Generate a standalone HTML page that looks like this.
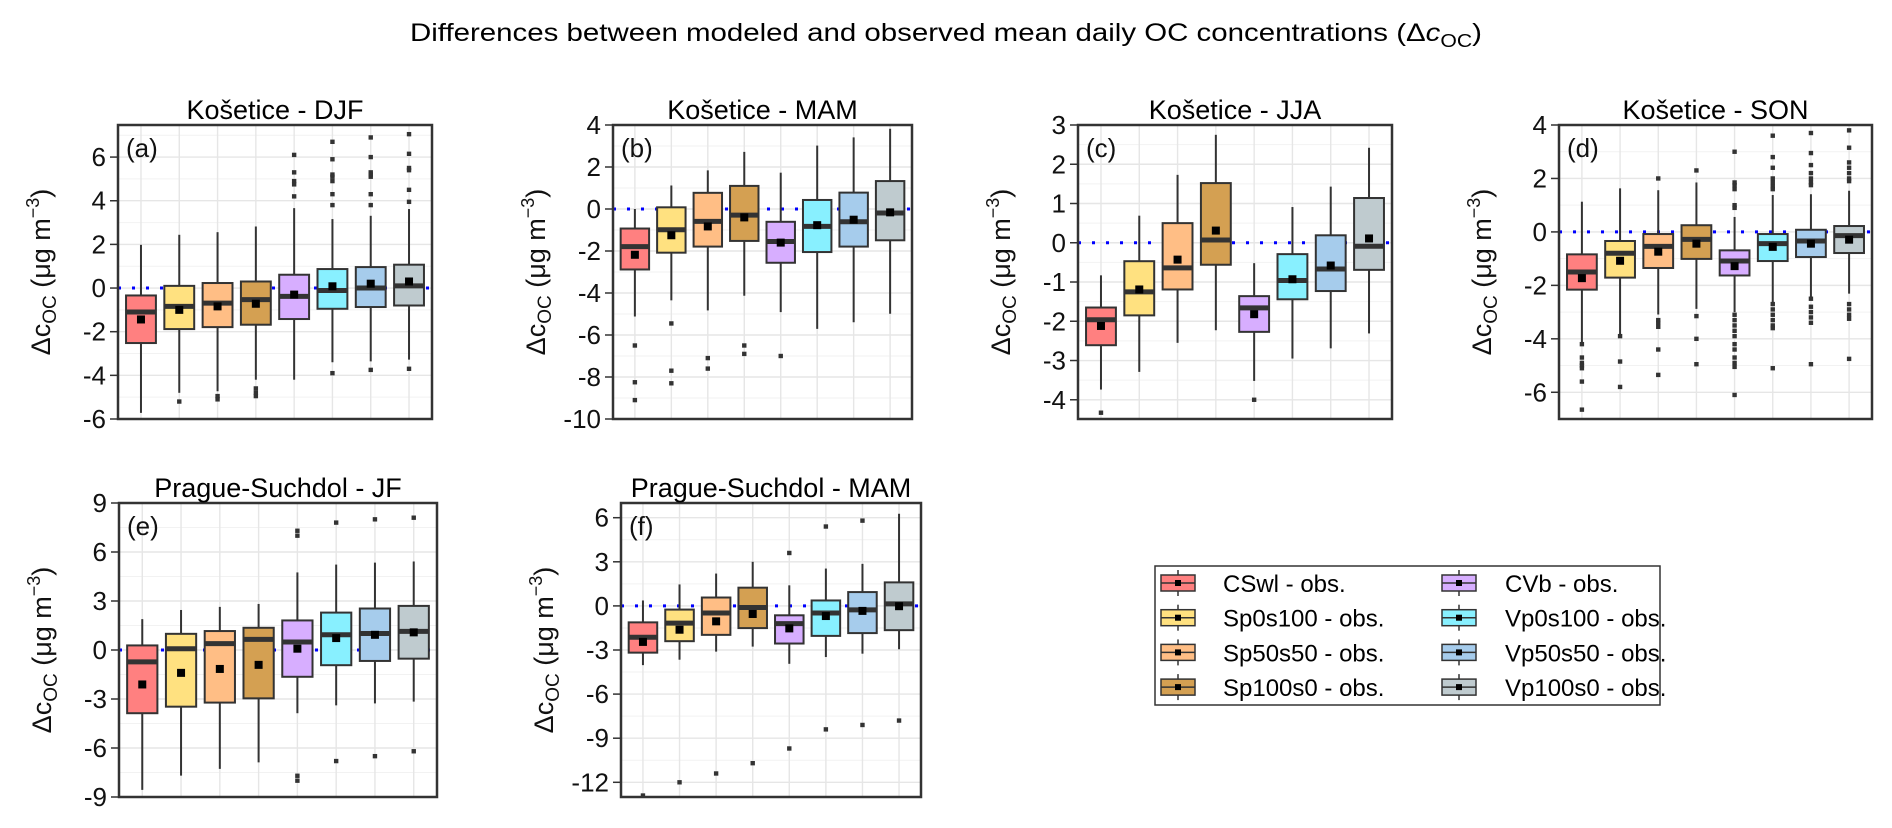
<!DOCTYPE html>
<html><head><meta charset="utf-8"><style>
html,body{margin:0;padding:0;background:#fff;}
svg{display:block;font-family:"Liberation Sans",Arial,sans-serif;}
</style></head><body>
<svg id="chart" width="1892" height="828" viewBox="0 0 1892 828" xmlns="http://www.w3.org/2000/svg">
<rect width="1892" height="828" fill="#fff"/>
<text x="946" y="41" text-anchor="middle" font-size="25" textLength="1072" lengthAdjust="spacingAndGlyphs">Differences between modeled and observed mean daily OC concentrations (Δ<tspan font-style="italic">c</tspan><tspan font-size="18" dy="6">OC</tspan><tspan dy="-6">)</tspan></text>
<g id="panels"></g>
<g id="legend"></g>
</svg>
<script>
// ---- data ----
const categories = ["CSwl - obs.","Sp0s100 - obs.","Sp50s50 - obs.","Sp100s0 - obs.","CVb - obs.","Vp0s100 - obs.","Vp50s50 - obs.","Vp100s0 - obs."];
const colors = ["#FF8080","#FFE180","#FFBE85","#D4A052","#D7AEFF","#88F0FF","#A6CCEC","#BFCBCF"];
const panelTitles = ["Košetice - DJF","Košetice - MAM","Košetice - JJA","Košetice - SON","Prague-Suchdol - JF","Prague-Suchdol - MAM"];
const panelLetters = ["(a)","(b)","(c)","(d)","(e)","(f)"];
const yTicksA = [-6,-4,-2,0,2,4,6];
const yTicksB = [-10,-8,-6,-4,-2,0,2,4];
const yTicksC = [-4,-3,-2,-1,0,1,2,3];
const yTicksD = [-6,-4,-2,0,2,4];
const yTicksE = [-9,-6,-3,0,3,6,9];
const yTicksF = [-12,-9,-6,-3,0,3,6];
// per box: [lower whisker, q1, median, q3, upper whisker, mean]
const statsA = [[-5.72,-2.52,-1.1,-0.34,1.98,-1.44],[-4.8,-1.88,-0.84,0.1,2.44,-1.0],[-4.73,-1.79,-0.69,0.23,2.56,-0.84],[-4.2,-1.68,-0.53,0.3,2.82,-0.72],[-4.2,-1.42,-0.38,0.61,3.66,-0.3],[-3.4,-0.95,-0.11,0.87,3.16,0.08],[-3.36,-0.87,0,0.96,3.31,0.2],[-3.28,-0.8,0.1,1.07,3.62,0.3]];
const outA = [[],[-5.2],[-4.95,-5.1],[-4.6,-4.8,-4.95],[4.2,4.75,4.9,5.3,6.1],[-3.9,3.8,4.3,4.9,5.1,5.2,5.9,6.7],[-3.75,3.8,4.3,5.1,5.3,5.2,6.0,6.9],[-3.7,3.95,4.5,5.4,5.5,6.15,7.05]];
const statsB = [[-5.12,-2.88,-1.79,-0.93,0,-2.18],[-4.35,-2.08,-0.99,0.08,1.12,-1.25],[-4.83,-1.79,-0.59,0.77,1.84,-0.83],[-4.13,-1.52,-0.29,1.1,2.72,-0.4],[-4.91,-2.56,-1.55,-0.61,1.73,-1.6],[-5.71,-2.05,-0.83,0.43,3.02,-0.77],[-5.39,-1.79,-0.61,0.78,3.41,-0.51],[-4.99,-1.49,-0.19,1.33,3.82,-0.16]];
const outB = [[-6.5,-8.25,-9.1],[-5.45,-7.7,-8.3],[-7.1,-7.6],[-6.5,-6.9],[-7.0],[],[],[]];
const statsC = [[-3.74,-2.61,-1.96,-1.65,-0.83,-2.12],[-3.29,-1.85,-1.25,-0.47,0.69,-1.19],[-2.55,-1.19,-0.64,0.5,1.73,-0.43],[-2.23,-0.56,0.07,1.52,2.75,0.31],[-3.52,-2.27,-1.66,-1.36,-0.52,-1.82],[-2.95,-1.44,-0.96,-0.29,0.91,-0.93],[-2.69,-1.23,-0.67,0.19,1.43,-0.58],[-2.31,-0.69,-0.09,1.14,2.42,0.11]];
const outC = [[-4.33],[],[],[],[-4.0],[],[],[]];
const statsD = [[-4.19,-2.16,-1.5,-0.84,1.13,-1.73],[-3.84,-1.71,-0.8,-0.34,1.63,-1.08],[-3.09,-1.35,-0.54,-0.08,1.56,-0.74],[-2.88,-1.01,-0.28,0.25,1.85,-0.44],[-3.0,-1.63,-1.09,-0.69,0.56,-1.28],[-2.63,-1.09,-0.44,-0.08,1.38,-0.56],[-2.44,-0.94,-0.34,0.08,1.41,-0.44],[-2.31,-0.79,-0.14,0.22,1.54,-0.29]];
const outD = [[-4.2,-4.7,-4.9,-5.0,-5.1,-5.6,-6.65],[-3.9,-4.85,-5.8],[2.0,-3.3,-3.4,-3.55,-4.4,-5.35],[2.3,-3.15,-4.0,-4.95],[3.0,1.6,1.75,1.85,1.0,0.9,-3.1,-3.3,-3.5,-3.7,-3.9,-4.2,-4.4,-4.7,-4.9,-5.05,-6.1],[3.6,2.8,2.4,2.0,1.85,1.7,1.6,-2.7,-2.9,-3.1,-3.3,-3.5,-3.6,-5.1],[3.7,2.95,2.5,2.2,2.0,1.85,1.75,-2.5,-2.8,-3.0,-3.2,-3.4,-4.95],[3.8,3.15,2.6,2.4,2.2,2.0,1.9,-2.7,-2.9,-3.1,-3.25,-4.75]];
const statsE = [[-8.56,-3.87,-0.73,0.28,1.89,-2.11],[-7.69,-3.47,0.08,0.99,2.45,-1.4],[-7.28,-3.22,0.39,1.16,2.64,-1.16],[-6.88,-2.96,0.65,1.36,2.82,-0.91],[-3.87,-1.64,0.49,1.81,4.75,0.08],[-3.39,-0.93,0.93,2.29,5.23,0.73],[-3.27,-0.67,1.01,2.54,5.35,0.93],[-3.16,-0.53,1.14,2.7,5.42,1.08]];
const outE = [[],[],[],[],[7.0,7.3,-7.7,-8.0],[7.8,-6.8],[8.0,-6.5],[8.1,-6.2]];
const statsF = [[-4.03,-3.18,-2.13,-1.12,0.37,-2.45],[-3.66,-2.4,-1.17,-0.25,1.46,-1.62],[-3.11,-1.97,-0.48,0.57,2.2,-1.05],[-2.77,-1.51,-0.11,1.24,3.0,-0.55],[-3.94,-2.56,-1.21,-0.64,1.4,-1.53],[-3.48,-2.04,-0.48,0.37,2.54,-0.69],[-3.25,-1.85,-0.27,0.94,2.86,-0.34],[-2.95,-1.65,0.14,1.6,6.27,-0.02]];
const outF = [[-12.9],[-12.0],[-11.4],[-10.7],[3.6,-9.7],[5.4,-8.4],[5.8,-8.1],[-7.8]];

// ---- layout ----
const panels = [
 {x0:118,x1:432,y0:125,y1:419,ymin:-6,ymax:7.47,ticks:yTicksA,stats:statsA,out:outA},
 {x0:613,x1:912,y0:125,y1:419,ymin:-10,ymax:4,ticks:yTicksB,stats:statsB,out:outB},
 {x0:1078,x1:1392,y0:125,y1:419,ymin:-4.49,ymax:3,ticks:yTicksC,stats:statsC,out:outC},
 {x0:1559,x1:1872,y0:125,y1:419,ymin:-7,ymax:4,ticks:yTicksD,stats:statsD,out:outD},
 {x0:119,x1:437,y0:503,y1:797,ymin:-9,ymax:9,ticks:yTicksE,stats:statsE,out:outE},
 {x0:621,x1:921,y0:503,y1:797,ymin:-13,ymax:7,ticks:yTicksF,stats:statsF,out:outF}
];
const NS="http://www.w3.org/2000/svg";
function mk(tag,attrs,parent){const e=document.createElementNS(NS,tag);for(const k in attrs)e.setAttribute(k,attrs[k]);if(parent)parent.appendChild(e);return e;}
const root=document.getElementById('panels');
panels.forEach((p,pi)=>{
  const g=mk('g',{},root);
  
  
  const yS=v=>p.y1-(v-p.ymin)/(p.ymax-p.ymin)*(p.y1-p.y0);
  const step=(p.x1-p.x0)/8.2;
  const xS=i=>p.x0+(i+0.6)*step;
  const tstep=p.ticks[1]-p.ticks[0];
  for(let v=p.ticks[0]-tstep/2;v<=p.ymax;v+=tstep/2){
    if(v<p.ymin) continue;
    const isMajor=Math.abs(((v-p.ticks[0])/tstep)-Math.round((v-p.ticks[0])/tstep))<1e-6;
    mk('line',{x1:p.x0,x2:p.x1,y1:yS(v),y2:yS(v),stroke:isMajor?'#e6e6e6':'#f2f2f2','stroke-width':isMajor?1.4:1},g);
  }
  categories.forEach((c,i)=>mk('line',{x1:xS(i),x2:xS(i),y1:p.y0,y2:p.y1,stroke:'#e6e6e6','stroke-width':1.4},g));
  const zl=mk('line',{x1:p.x0,x2:p.x1,y1:yS(0),y2:yS(0),stroke:'#0000ff','stroke-width':3,'stroke-dasharray':'3 11'},g);
  
  
  const bw=step*0.78;
  p.stats.forEach((s,i)=>{
    const bx=mk('g',{},g);
    
    
    const cx=xS(i);
    mk('line',{x1:cx,x2:cx,y1:yS(s[0]),y2:yS(s[1]),stroke:'#333','stroke-width':2},bx);
    mk('line',{x1:cx,x2:cx,y1:yS(s[3]),y2:yS(s[4]),stroke:'#333','stroke-width':2},bx);
    mk('rect',{x:cx-bw/2,y:yS(s[3]),width:bw,height:yS(s[1])-yS(s[3]),fill:colors[i],stroke:'#333','stroke-width':2},bx);
    mk('line',{x1:cx-bw/2,x2:cx+bw/2,y1:yS(s[2]),y2:yS(s[2]),stroke:'#333','stroke-width':5},bx);
    mk('rect',{x:cx-4,y:yS(s[5])-4,width:8,height:8,fill:'#000'},bx);
    p.out[i].forEach(o=>mk('rect',{x:cx-2.2,y:yS(o)-2.2,width:4.4,height:4.4,fill:'#333'},bx));
  });
  mk('rect',{x:p.x0,y:p.y0,width:p.x1-p.x0,height:p.y1-p.y0,fill:'none',stroke:'#333','stroke-width':2.5},g);
  p.ticks.forEach(v=>{
    mk('line',{x1:p.x0-8,x2:p.x0,y1:yS(v),y2:yS(v),stroke:'#333','stroke-width':1.5},g);
    const t=mk('text',{x:p.x0-12,y:yS(v)+9,'text-anchor':'end','font-size':26,fill:'#111'},g);
    t.textContent=v;
  });
  const tt=mk('text',{x:(p.x0+p.x1)/2,y:p.y0-6,'text-anchor':'middle','font-size':27,fill:'#000'},g);
  
  
  tt.textContent=panelTitles[pi];
  const lt=mk('text',{x:p.x0+8,y:p.y0+32,'font-size':26,fill:'#111'},g);
  lt.textContent=panelLetters[pi];
  const lx=p.x0-68, ly=(p.y0+p.y1)/2;
  const at=mk('text',{x:lx,y:ly,'text-anchor':'middle','font-size':27,fill:'#111',transform:`rotate(-90 ${lx} ${ly})`},g);
  
  
  at.innerHTML='Δc<tspan font-size="19" dy="6">OC</tspan><tspan dy="-6"> (μg m</tspan><tspan font-size="18" dy="-11">−3</tspan><tspan dy="11">)</tspan>';
});
const lg=document.getElementById('legend');
mk('rect',{x:1155,y:566,width:505,height:139,fill:'#fff',stroke:'#333','stroke-width':1.5},lg);
categories.forEach((c,i)=>{
  const col=Math.floor(i/4), row=i%4;
  const kx=col?1442:1161, cy=583+row*34.7;
  const e=mk('g',{},lg);
  
  
  const kc=kx+17;
  mk('line',{x1:kc,x2:kc,y1:cy-13,y2:cy+13,stroke:'#333','stroke-width':1.5},e);
  mk('rect',{x:kx,y:cy-8,width:34,height:16,fill:colors[i],stroke:'#333','stroke-width':1.5},e);
  mk('line',{x1:kx,x2:kx+34,y1:cy,y2:cy,stroke:'#333','stroke-width':1.5},e);
  mk('rect',{x:kc-3,y:cy-3,width:6,height:6,fill:'#000'},e);
  const t=mk('text',{x:col?1505:1223,y:cy+9,'font-size':24,fill:'#000'},e);
  t.textContent=c;
});
</script>
</body></html>
